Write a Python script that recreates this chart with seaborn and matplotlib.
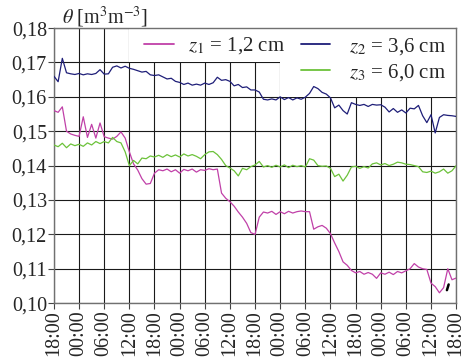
import numpy as np
import pandas as pd
import matplotlib
matplotlib.use("Agg")
import matplotlib.pyplot as plt
from matplotlib.patches import Rectangle
from matplotlib.lines import Line2D
import seaborn as sns

# ---- data (hours since first 18:00, hourly readings) ----
hours = list(range(97))

z1_vals = [0.1560, 0.1555, 0.1571, 0.1500, 0.1492, 0.1488, 0.1485, 0.1542, 0.1482, 0.1520,
           0.1480, 0.1524, 0.1484, 0.1480, 0.1477, 0.1485, 0.1498, 0.1480, 0.1440, 0.1405,
           0.1387, 0.1362, 0.1346, 0.1348, 0.1378, 0.1388, 0.1385, 0.1390, 0.1382, 0.1388,
           0.1378, 0.1389, 0.1385, 0.1390, 0.1381, 0.1388, 0.1386, 0.1391, 0.1388, 0.1390,
           0.1320, 0.1305, 0.1295, 0.1282, 0.1265, 0.1250, 0.1232, 0.1205, 0.1200, 0.1250,
           0.1265, 0.1262, 0.1267, 0.1258, 0.1266, 0.1260, 0.1267, 0.1262, 0.1266, 0.1268,
           0.1266, 0.1266, 0.1215, 0.1222, 0.1226, 0.1218, 0.1202, 0.1175, 0.1150, 0.1120,
           0.1110, 0.1095, 0.1088, 0.1092, 0.1084, 0.1089, 0.1084, 0.1072, 0.1088, 0.1084,
           0.1090, 0.1083, 0.1092, 0.1088, 0.1094, 0.1100, 0.1115, 0.1105, 0.1100, 0.1098,
           0.1058, 0.1048, 0.1030, 0.1045, 0.1100, 0.1068, 0.1073]

z2_vals = [0.1660, 0.1644, 0.1712, 0.1670, 0.1667, 0.1665, 0.1668, 0.1664, 0.1667, 0.1665,
           0.1668, 0.1679, 0.1666, 0.1667, 0.1686, 0.1690, 0.1684, 0.1689, 0.1683, 0.1680,
           0.1676, 0.1672, 0.1674, 0.1664, 0.1662, 0.1664, 0.1658, 0.1652, 0.1654, 0.1645,
           0.1642, 0.1636, 0.1640, 0.1634, 0.1637, 0.1634, 0.1640, 0.1636, 0.1641, 0.1657,
           0.1648, 0.1650, 0.1645, 0.1632, 0.1636, 0.1627, 0.1629, 0.1620, 0.1620, 0.1614,
           0.1593, 0.1591, 0.1594, 0.1591, 0.1600, 0.1592, 0.1598, 0.1591, 0.1597, 0.1593,
           0.1599, 0.1610, 0.1630, 0.1624, 0.1613, 0.1608, 0.1597, 0.1568, 0.1576, 0.1560,
           0.1550, 0.1583, 0.1578, 0.1575, 0.1578, 0.1572, 0.1578, 0.1576, 0.1577, 0.1570,
           0.1556, 0.1566, 0.1555, 0.1562, 0.1553, 0.1567, 0.1565, 0.1575, 0.1545, 0.1525,
           0.1548, 0.1495, 0.1540, 0.1548, 0.1546, 0.1545, 0.1543]

z3_vals = [0.1460, 0.1455, 0.1465, 0.1452, 0.1463, 0.1458, 0.1462, 0.1456, 0.1466, 0.1460,
           0.1470, 0.1464, 0.1470, 0.1466, 0.1482, 0.1470, 0.1466, 0.1440, 0.1400, 0.1415,
           0.1405, 0.1422, 0.1420, 0.1428, 0.1425, 0.1430, 0.1424, 0.1432, 0.1426, 0.1431,
           0.1425, 0.1434, 0.1428, 0.1432, 0.1427, 0.1420, 0.1432, 0.1440, 0.1441, 0.1432,
           0.1418, 0.1400, 0.1393, 0.1385, 0.1370, 0.1392, 0.1388, 0.1397, 0.1402, 0.1412,
           0.1396, 0.1400, 0.1395, 0.1401, 0.1396, 0.1402, 0.1394, 0.1401, 0.1397, 0.1400,
           0.1396, 0.1420, 0.1416, 0.1400, 0.1398, 0.1399, 0.1392, 0.1368, 0.1375, 0.1355,
           0.1372, 0.1396, 0.1398, 0.1392, 0.1397, 0.1393, 0.1405, 0.1408, 0.1402, 0.1406,
           0.1400, 0.1404, 0.1410, 0.1408, 0.1404, 0.1403, 0.1400, 0.1397, 0.1382, 0.1380,
           0.1384, 0.1378, 0.1382, 0.1390, 0.1378, 0.1385, 0.1400]

tick_hours = [0, 6, 12, 18, 24, 30, 36, 42, 48, 54, 60, 66, 72, 78, 84, 90, 96]
tick_labels = ["18:00", "00:00", "06:00", "12:00", "18:00", "00:00", "06:00", "12:00",
               "18:00", "00:00", "06:00", "12:00", "18:00", "00:00", "06:00", "12:00", "18:00"]
y_ticks = [0.10, 0.11, 0.12, 0.13, 0.14, 0.15, 0.16, 0.17, 0.18]
y_labels = ["0,10", "0,11", "0,12", "0,13", "0,14", "0,15", "0,16", "0,17", "0,18"]

series_labels = [r"$z_{\mathit{1}}$ = 1,2 cm", r"$z_{\mathit{2}}$ = 3,6 cm", r"$z_{\mathit{3}}$ = 6,0 cm"]
colors = ["#C040A8", "#1E1E78", "#6CC23A"]

df = pd.DataFrame({"t": hours, "z1": z1_vals, "z2": z2_vals, "z3": z3_vals})

# ---- style ----
sns.set_theme(style="white")
plt.rcParams["font.family"] = ["Liberation Serif", "DejaVu Serif"]
plt.rcParams["mathtext.fontset"] = "stix"

fig = plt.figure(figsize=(4.65, 3.6), dpi=100)
ax = fig.add_axes([0.116, 0.158, 0.865, 0.764])

for col, c in zip(["z1", "z2", "z3"], colors):
    sns.lineplot(data=df, x="t", y=col, color=c, lw=0.9, ax=ax, zorder=3)

ax.set_xlim(0, 96)
ax.set_ylim(0.10, 0.18)
ax.set_xticks(tick_hours)
ax.set_xticklabels(tick_labels, rotation=90, fontsize=14.5)
ax.set_yticks(y_ticks)
ax.set_yticklabels(y_labels, fontsize=14.5)
ax.set_xlabel("")
ax.set_ylabel("")
ax.tick_params(axis="both", which="major", direction="out", length=4, width=0.8,
               color="#444444", pad=1, bottom=True, left=True)
ax.set_axisbelow(True)
ax.grid(True, color="#1a1a1a", lw=0.8)
for s in ax.spines.values():
    s.set_color("#707070")
    s.set_linewidth(1.0)

# white areas behind the legend entries
ax.add_patch(Rectangle((18, 0.17), 78, 0.01, facecolor="white", edgecolor="none", zorder=1))
ax.add_patch(Rectangle((54, 0.16), 42, 0.02, facecolor="white", edgecolor="none", zorder=1))

h = [Line2D([], [], color=c, lw=1.3) for c in colors]
legA = ax.legend([h[0]], [series_labels[0]], loc="center left", bbox_to_anchor=(0.225, 0.935),
                 frameon=False, fontsize=15, handlelength=1.4, handletextpad=0.7,
                 borderpad=0, borderaxespad=0)
ax.add_artist(legA)
ax.legend([h[1], h[2]], series_labels[1:], loc="center left", bbox_to_anchor=(0.615, 0.885),
          frameon=False, fontsize=15, handlelength=1.4, handletextpad=0.9,
          labelspacing=0.25, borderpad=0, borderaxespad=0)

ax.annotate("", xy=(94.4, 0.1062), xytext=(93.6, 0.1030),
            arrowprops=dict(arrowstyle="-", color="black", lw=1.8))

ax.text(0.02, 1.015, r"$\theta$ [m$^3$m$^{-3}$]", transform=ax.transAxes, fontsize=14.5,
        ha="left", va="baseline")

fig.savefig("out.png", dpi=100)
